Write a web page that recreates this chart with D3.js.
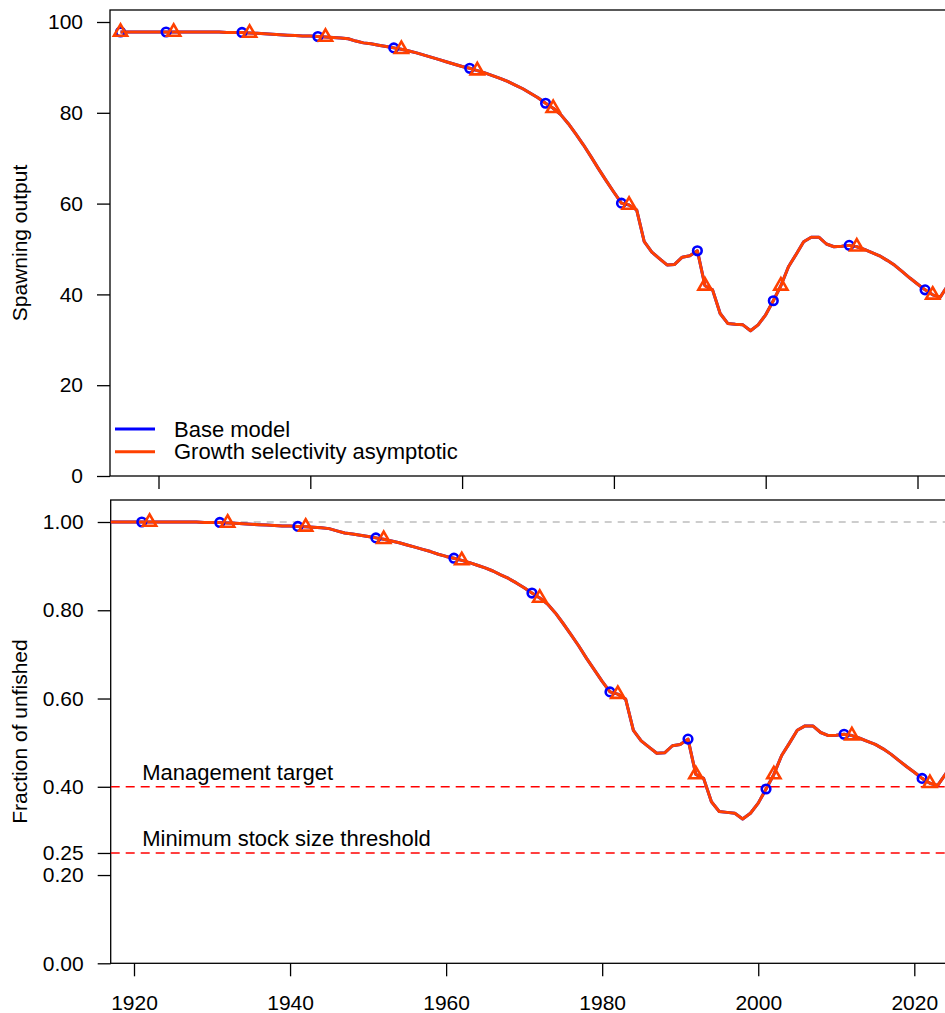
<!DOCTYPE html>
<html>
<head>
<meta charset="utf-8">
<script src="https://cdn.jsdelivr.net/npm/d3@7"></script>
<style>
  html, body { margin: 0; padding: 0; background: #fff; }
  svg { display: block; font-family: "Liberation Sans", Arial, sans-serif; }
</style>
</head>
<body>
<svg id="chart" width="945" height="1013"></svg>
<script>
// Spawning output by year (virgin point at 1915, then 1916 onward)
const spawnYears = d3.range(1915, 2026);
const baseSpawn = [
  97.8, 97.8, 97.8, 97.8, 97.8, 97.8, 97.8, 97.8, 97.8, 97.8,
  97.8, 97.8, 97.8, 97.8, 97.7, 97.7, 97.7, 97.6, 97.5, 97.4,
  97.3, 97.2, 97.1, 97.0, 96.9, 96.9, 96.8, 96.7, 96.6, 96.5,
  96.3, 95.8, 95.4, 95.2, 94.9, 94.6, 94.3, 94.0, 93.6, 93.2,
  92.7, 92.2, 91.7, 91.2, 90.7, 90.2, 89.8, 89.3, 88.8, 88.2,
  87.6, 86.9, 86.1, 85.3, 84.3, 83.3, 82.1, 81.0, 79.6, 77.6,
  75.3, 72.9, 70.3, 67.6, 65.0, 62.5, 60.1, 59.7, 58.6, 51.6,
  49.3, 47.9, 46.5, 46.6, 48.2, 48.5, 49.6, 41.9, 41.0, 35.8,
  33.6, 33.4, 33.3, 32.0, 33.3, 35.5, 38.6, 41.9, 46.1, 48.8,
  51.6, 52.6, 52.6, 51.1, 50.5, 50.6, 50.8, 50.5, 49.9, 49.2,
  48.5, 47.5, 46.4, 45.0, 43.6, 42.3, 41.0, 39.9, 39.4, 42.0,
  44.0
];
const growthSpawn = [
  97.8, 97.8, 97.8, 97.8, 97.8, 97.8, 97.8, 97.8, 97.8, 97.8,
  97.8, 97.8, 97.8, 97.8, 97.7, 97.7, 97.7, 97.6, 97.5, 97.4,
  97.3, 97.2, 97.1, 97.0, 96.9, 96.9, 96.8, 96.7, 96.6, 96.5,
  96.3, 95.8, 95.4, 95.2, 94.9, 94.6, 94.3, 94.0, 93.6, 93.2,
  92.7, 92.2, 91.7, 91.2, 90.7, 90.2, 89.8, 89.3, 88.8, 88.2,
  87.6, 86.9, 86.1, 85.3, 84.3, 83.3, 82.1, 81.0, 79.6, 77.6,
  75.3, 72.9, 70.3, 67.6, 65.0, 62.5, 60.1, 59.7, 58.6, 51.6,
  49.3, 47.9, 46.5, 46.6, 48.2, 48.5, 49.6, 41.9, 41.0, 35.8,
  33.6, 33.4, 33.3, 32.0, 33.3, 35.5, 38.6, 41.9, 46.1, 48.8,
  51.6, 52.6, 52.6, 51.1, 50.5, 50.6, 50.8, 50.5, 49.9, 49.2,
  48.5, 47.5, 46.4, 45.0, 43.6, 42.3, 41.0, 39.9, 39.4, 42.0,
  44.0
];

// Fraction of unfished spawning output, 1917 onward
const fracYears = d3.range(1917, 2026);
const baseFrac = [
  1.000, 1.000, 1.000, 1.000, 1.000, 1.000, 1.000, 1.000, 1.000, 1.000,
  1.000, 1.000, 0.999, 0.999, 0.999, 0.998, 0.997, 0.996, 0.995, 0.994,
  0.993, 0.992, 0.991, 0.991, 0.990, 0.989, 0.988, 0.987, 0.985, 0.980,
  0.975, 0.973, 0.970, 0.967, 0.964, 0.961, 0.957, 0.953, 0.948, 0.943,
  0.938, 0.933, 0.927, 0.922, 0.918, 0.913, 0.908, 0.902, 0.896, 0.889,
  0.880, 0.872, 0.862, 0.851, 0.839, 0.828, 0.814, 0.794, 0.770, 0.745,
  0.719, 0.691, 0.665, 0.639, 0.615, 0.610, 0.599, 0.528, 0.504, 0.490,
  0.476, 0.477, 0.493, 0.496, 0.508, 0.428, 0.419, 0.366, 0.344, 0.342,
  0.340, 0.327, 0.340, 0.363, 0.395, 0.428, 0.471, 0.499, 0.528, 0.538,
  0.538, 0.523, 0.516, 0.517, 0.519, 0.516, 0.510, 0.503, 0.496, 0.486,
  0.474, 0.460, 0.446, 0.433, 0.419, 0.408, 0.403, 0.429, 0.450
];
const growthFrac = [
  1.000, 1.000, 1.000, 1.000, 1.000, 1.000, 1.000, 1.000, 1.000, 1.000,
  1.000, 1.000, 0.999, 0.999, 0.999, 0.998, 0.997, 0.996, 0.995, 0.994,
  0.993, 0.992, 0.991, 0.991, 0.990, 0.989, 0.988, 0.987, 0.985, 0.980,
  0.975, 0.973, 0.970, 0.967, 0.964, 0.961, 0.957, 0.953, 0.948, 0.943,
  0.938, 0.933, 0.927, 0.922, 0.918, 0.913, 0.908, 0.902, 0.896, 0.889,
  0.880, 0.872, 0.862, 0.851, 0.839, 0.828, 0.814, 0.794, 0.770, 0.745,
  0.719, 0.691, 0.665, 0.639, 0.615, 0.610, 0.599, 0.528, 0.504, 0.490,
  0.476, 0.477, 0.493, 0.496, 0.508, 0.428, 0.419, 0.366, 0.344, 0.342,
  0.340, 0.327, 0.340, 0.363, 0.395, 0.428, 0.471, 0.499, 0.528, 0.538,
  0.538, 0.523, 0.516, 0.517, 0.519, 0.516, 0.510, 0.503, 0.496, 0.486,
  0.474, 0.460, 0.446, 0.433, 0.419, 0.408, 0.403, 0.429, 0.450
];

// Marker years for each model
const baseMarkYearsTop = [1915, 1921, 1931, 1941, 1951, 1961, 1971, 1981, 1991, 2001, 2011, 2021];
const growthMarkYearsTop = [1915, 1922, 1932, 1942, 1952, 1962, 1972, 1982, 1992, 2002, 2012, 2022];
const baseMarkYearsBot = [1921, 1931, 1941, 1951, 1961, 1971, 1981, 1991, 2001, 2011, 2021];
const growthMarkYearsBot = [1922, 1932, 1942, 1952, 1962, 1972, 1982, 1992, 2002, 2012, 2022];

// Axis ticks and labels
const xTicks = [1920, 1940, 1960, 1980, 2000, 2020];
const topYTicks = [0, 20, 40, 60, 80, 100];
const botYTicks = [0, 0.2, 0.25, 0.4, 0.6, 0.8, 1.0];

const modelNames = ["Base model", "Growth selectivity asymptotic"];
const modelColors = ["#0000ff", "#ff4000"];

const refLines = [
  { value: 0.40, label: "Management target" },
  { value: 0.25, label: "Minimum stock size threshold" }
];

const svg = d3.select("#chart");
const FONT = 21;

// Scales
const xTop = d3.scaleLinear().domain([1920, 2020]).range([158.5, 917.5]);
const yTop = d3.scaleLinear().domain([0, 100]).range([476, 22]);
const xBot = d3.scaleLinear().domain([1920, 2020]).range([134, 914.3]);
const yBot = d3.scaleLinear().domain([0, 1]).range([963.3, 522]);

const topBox = { left: 110, top: 10, right: 990, bottom: 476 };
const botBox = { left: 110.7, top: 500, right: 990, bottom: 963.3 };

function clip(id, b) {
  svg.append("clipPath").attr("id", id).append("rect")
    .attr("x", b.left).attr("y", b.top)
    .attr("width", b.right - b.left).attr("height", b.bottom - b.top);
}
clip("clipTop", topBox);
clip("clipBot", botBox);

function trianglePath(R) {
  const r = 1.555 * R, xc = 1.347 * R, yc = 0.777 * R;
  return `M0,${-r}L${xc},${yc}L${-xc},${yc}Z`;
}

function drawPanel(opts) {
  const { x, y, box, clipId, years, series, markYears, yTicks, yFmt, title, titleY } = opts;
  const g = svg.append("g");

  // frame
  g.append("rect")
    .attr("x", box.left).attr("y", box.top)
    .attr("width", box.right - box.left).attr("height", box.bottom - box.top)
    .attr("fill", "none").attr("stroke", "#000").attr("stroke-width", 1.3);

  // y axis
  const yAxis = d3.axisLeft(y).tickValues(yTicks).tickSize(13).tickPadding(14).tickFormat(yFmt);
  const ya = g.append("g").attr("transform", `translate(${box.left},0)`).call(yAxis);
  ya.select(".domain").remove();
  ya.selectAll("line").attr("stroke", "#000").attr("stroke-width", 1.3);
  ya.selectAll("text").attr("font-size", FONT).attr("fill", "#000")
    .attr("font-family", "Liberation Sans, Arial, sans-serif");

  // x axis ticks
  const xAxis = d3.axisBottom(x).tickValues(xTicks).tickSize(13).tickPadding(19)
    .tickFormat(opts.showXLabels ? d3.format("d") : () => "");
  const xa = g.append("g").attr("transform", `translate(0,${box.bottom})`).call(xAxis);
  xa.select(".domain").remove();
  xa.selectAll("line").attr("stroke", "#000").attr("stroke-width", 1.3);
  xa.selectAll("text").attr("font-size", FONT).attr("fill", "#000")
    .attr("font-family", "Liberation Sans, Arial, sans-serif");

  // axis title
  g.append("text")
    .attr("transform", `translate(27,${titleY}) rotate(-90)`)
    .attr("text-anchor", "middle")
    .attr("font-size", FONT).attr("fill", "#000")
    .text(title);

  const plot = g.append("g").attr("clip-path", `url(#${clipId})`);
  if (opts.before) opts.before(plot);

  const line = d3.line().x(d => x(d[0])).y(d => y(d[1]));
  series.forEach((vals, i) => {
    const pts = years.map((yr, k) => [yr, vals[k]]);
    plot.append("path").datum(pts)
      .attr("fill", "none").attr("stroke", modelColors[i])
      .attr("stroke-width", 3).attr("stroke-linejoin", "round")
      .attr("d", line);
  });

  // markers: circles for base model, triangles for the growth run
  series.forEach((vals, i) => {
    const pts = markYears[i].map(yr => [yr, vals[years.indexOf(yr)]]);
    if (i === 0) {
      plot.selectAll(null).data(pts).enter().append("circle")
        .attr("cx", d => x(d[0])).attr("cy", d => y(d[1])).attr("r", 4.3)
        .attr("fill", "none").attr("stroke", modelColors[i]).attr("stroke-width", 2.6);
    } else {
      plot.selectAll(null).data(pts).enter().append("path")
        .attr("d", trianglePath(4.9))
        .attr("transform", d => `translate(${x(d[0])},${y(d[1])})`)
        .attr("fill", "none").attr("stroke", modelColors[i]).attr("stroke-width", 2.6)
        .attr("stroke-linejoin", "miter");
    }
  });
  return g;
}

// Top panel: spawning output
const topG = drawPanel({
  x: xTop, y: yTop, box: topBox, clipId: "clipTop",
  years: spawnYears, series: [baseSpawn, growthSpawn],
  markYears: [baseMarkYearsTop, growthMarkYearsTop],
  yTicks: topYTicks, yFmt: d3.format("d"),
  title: "Spawning output", titleY: 243, showXLabels: false
});

// legend
const legendRows = [429, 451.7];
modelNames.forEach((name, i) => {
  topG.append("line")
    .attr("x1", 115).attr("x2", 155)
    .attr("y1", legendRows[i]).attr("y2", legendRows[i])
    .attr("stroke", modelColors[i]).attr("stroke-width", 3);
  topG.append("text")
    .attr("x", 174).attr("y", legendRows[i] + 7.5)
    .attr("font-size", 22).attr("fill", "#000")
    .text(name);
});

// Bottom panel: fraction of unfished
drawPanel({
  x: xBot, y: yBot, box: botBox, clipId: "clipBot",
  years: fracYears, series: [baseFrac, growthFrac],
  markYears: [baseMarkYearsBot, growthMarkYearsBot],
  yTicks: botYTicks, yFmt: d3.format(".2f"),
  title: "Fraction of unfished", titleY: 731.5, showXLabels: true,
  before: plot => {
    plot.append("line")
      .attr("x1", botBox.left).attr("x2", botBox.right)
      .attr("y1", yBot(1)).attr("y2", yBot(1))
      .attr("stroke", "#bdbdbd").attr("stroke-width", 1.5)
      .attr("stroke-dasharray", "7,6");
    refLines.forEach(r => {
      plot.append("line")
        .attr("x1", botBox.left).attr("x2", botBox.right)
        .attr("y1", yBot(r.value)).attr("y2", yBot(r.value))
        .attr("stroke", "#ff0000").attr("stroke-width", 1.6)
        .attr("stroke-dasharray", "9,6");
      plot.append("text")
        .attr("x", 142.3).attr("y", yBot(r.value) - 6.5)
        .attr("font-size", 22).attr("fill", "#000")
        .text(r.label);
    });
  }
});
</script>
</body>
</html>
